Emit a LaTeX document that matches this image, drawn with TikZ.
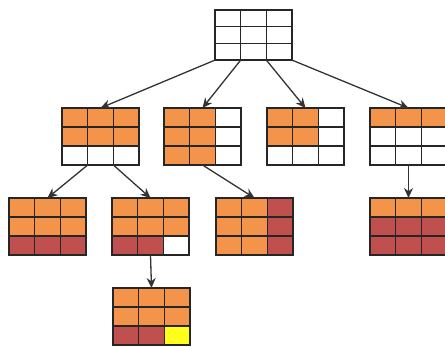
\documentclass[tikz,border=0pt]{standalone}
\usepackage{xcolor}
\usepackage{tikz}
\usetikzlibrary{arrows.meta, positioning}

\definecolor{tileorange}{HTML}{F4934A}
\definecolor{tilered}{HTML}{C0504D}
\definecolor{tileyellow}{HTML}{FFFF1A}

% 3x3 board: [cell height] name, left, top, nine fills (row by row)
\newcommand{\board}[5][19]{%
    \foreach \tile [count=\k from 0] in {#5} {
        \pgfmathtruncatemacro{\rr}{\k/3}
        \pgfmathtruncatemacro{\cc}{mod(\k,3)}
        \node[cell, fill=\tile, minimum height=#1pt] (#2-\rr\cc) at ({#3+25.67*\cc+12.83}, {#4+#1*\rr+#1/2}) {};
    }
}

\begin{document}
\begin{tikzpicture}[x=1pt, y=-1pt,
        cell/.style={draw=black!85, line width=1.2pt, minimum width=25.67pt, inner sep=0pt, outer sep=0pt},
        arr/.style={-{Stealth[length=10pt, width=9pt]}, draw=black!80, line width=1.3pt}]
        \useasboundingbox (0,0) rectangle (445,347);

        % Root
        \board[16.7]{top}{215}{10}{white,white,white,white,white,white,white,white,white}

        % Second level
        \board{r2a}{62}{108}{tileorange,tileorange,tileorange,tileorange,tileorange,tileorange,white,white,white}
        \board{r2b}{164}{108}{tileorange,tileorange,white,tileorange,tileorange,white,tileorange,tileorange,white}
        \board{r2c}{267}{108}{tileorange,tileorange,white,tileorange,tileorange,white,white,white,white}
        \board{r2d}{370}{108}{tileorange,tileorange,tileorange,white,white,white,white,white,white}

        % Third level
        \board{r3a}{9}{198}{tileorange,tileorange,tileorange,tileorange,tileorange,tileorange,tilered,tilered,tilered}
        \board{r3b}{112}{198}{tileorange,tileorange,tileorange,tileorange,tileorange,tileorange,tilered,tilered,white}
        \board{r3c}{216}{198}{tileorange,tileorange,tilered,tileorange,tileorange,tilered,tileorange,tileorange,tilered}
        \board{r3d}{370}{198}{tileorange,tileorange,tileorange,tilered,tilered,tilered,tilered,tilered,tilered}

        % Fourth level
        \board{r4}{113}{288}{tileorange,tileorange,tileorange,tileorange,tileorange,tileorange,tilered,tilered,tileyellow}

        % Arrows
        \draw[arr] (top-20.south west) -- (r2a-01.north);
        \draw[arr] (top-20.south east) -- (r2b-01.north);
        \draw[arr] (top-21.south east) -- (r2c-01.north);
        \draw[arr] (top-22.south east) -- (r2d-01.north);
        \draw[arr] (r2a-20.south east) -- (r3a-01.north);
        \draw[arr] (r2a-21.south east) -- (r3b-01.north);
        \draw[arr] (r2b-21.south) -- (r3c-01.north);
        \draw[arr] (r2d-21.south) -- (r3d-01.north);
        \draw[arr] (r3b-21.south) -- (r4-01.north);
    \end{tikzpicture}
\end{document}
